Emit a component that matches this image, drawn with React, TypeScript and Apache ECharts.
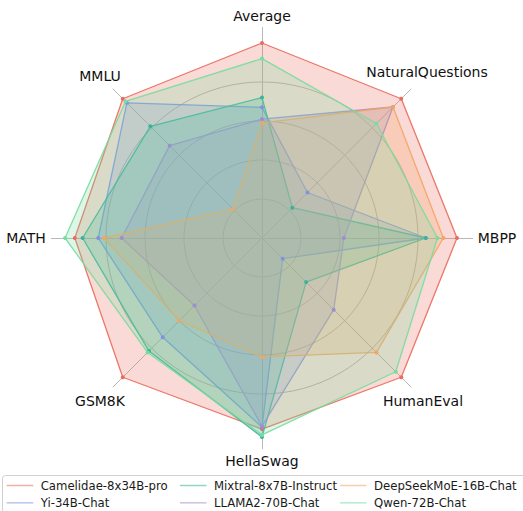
import React, { useEffect, useRef } from 'react';
import * as echarts from 'echarts';

// Indicators in ECharts order (counter-clockwise from the top)
const indicatorNames = ['Average', 'MMLU', 'MATH', 'GSM8K', 'HellaSwag', 'HumanEval', 'MBPP', 'NaturalQuestions'];
const seriesNames = [
  'Camelidae-8x34B-pro',
  'Yi-34B-Chat',
  'Mixtral-8x7B-Instruct',
  'LLAMA2-70B-Chat',
  'DeepSeekMoE-16B-Chat',
  'Qwen-72B-Chat',
];
// normalized scores, same order as indicatorNames
const camelidae = [1.0, 1.01, 0.96, 1.01, 0.98, 1.01, 1.0, 1.01];
const yi = [0.67, 0.98, 0.84, 0.72, 0.97, 0.15, 0.84, 0.33];
const mixtral = [0.72, 0.81, 0.92, 0.82, 1.02, 0.32, 0.84, 0.22];
const llama2 = [0.61, 0.67, 0.72, 0.49, 0.965, 0.52, 0.42, 0.95];
const deepseek = [0.59, 0.21, 0.81, 0.6, 0.61, 0.83, 0.93, 0.95];
const qwen = [0.92, 0.99, 1.01, 0.83, 1.01, 0.97, 0.9, 0.83];
const seriesValues = [camelidae, yi, mixtral, llama2, deepseek, qwen];
const colors = ['#ea6c5c', '#7e92e4', '#39b39a', '#9c8fd0', '#f4a563', '#78dd9e'];

const axisMax = 1.08;
const gridMax = 0.8;

// label layout (centre of each text)
const labelPos: Record<string, [number, number]> = {
  Average: [262, 16],
  NaturalQuestions: [427, 72],
  MBPP: [497, 238],
  HumanEval: [423, 401],
  HellaSwag: [262, 461],
  GSM8K: [100, 401],
  MATH: [26, 238],
  MMLU: [100, 76],
};

export default function App() {
  const ref = useRef<HTMLDivElement>(null);
  useEffect(() => {
    if (!ref.current) return;
    const chart = echarts.init(ref.current, undefined, { renderer: 'svg' });
    const cx = 262;
    const cy = 238;
    const unit = 195;
    const legendCols = [6.7, 180, 340];
    const option: any = {
      animation: false,
      backgroundColor: '#ffffff',
      radar: [
        {
          center: [cx, cy],
          radius: unit * gridMax,
          shape: 'circle',
          splitNumber: 4,
          indicator: indicatorNames.map((n) => ({ name: n, min: 0, max: gridMax })),
          axisName: { show: false },
          axisLine: { show: false },
          axisTick: { show: false },
          axisLabel: { show: false },
          splitArea: { show: false },
          splitLine: { show: true, lineStyle: { color: '#b8b8b8', width: 1 } },
        },
        {
          center: [cx, cy],
          radius: unit * axisMax,
          shape: 'circle',
          splitNumber: 4,
          indicator: indicatorNames.map((n) => ({ name: n, min: 0, max: axisMax })),
          axisName: { show: false },
          axisLine: { show: true, lineStyle: { color: '#b8b8b8', width: 1 } },
          axisTick: { show: false },
          axisLabel: { show: false },
          splitArea: { show: false },
          splitLine: { show: false },
        },
      ],
      legend: legendCols.map((left, c) => ({
        data: seriesNames.slice(c * 2, c * 2 + 2),
        orient: 'vertical',
        left,
        top: 478.5,
        padding: 0,
        itemWidth: 26.5,
        itemHeight: 1.5,
        itemGap: 3.3,
        icon: 'rect',
        selectedMode: false,
        itemStyle: { opacity: 0.55 },
        textStyle: {
          fontFamily: 'DejaVu Sans',
          fontSize: 11.7,
          color: '#1a1a1a',
          lineHeight: 14,
          padding: [0, 0, 0, 2.5],
        },
        z: 10,
      })),
      graphic: [
        {
          type: 'rect',
          z: 1,
          shape: { x: 2.5, y: 475.5, width: 540, height: 45, r: 3 },
          style: { fill: 'rgba(255,255,255,0.8)', stroke: '#d0d0d0', lineWidth: 1 },
        },
        ...indicatorNames.map((n) => ({
          type: 'text',
          z: 5,
          x: labelPos[n][0],
          y: labelPos[n][1],
          style: {
            text: n,
            fill: '#111',
            font: '14px "DejaVu Sans"',
            textAlign: 'center',
            textVerticalAlign: 'middle',
          },
        })),
      ],
      series: seriesNames.map((name, i) => ({
        type: 'radar',
        name,
        radarIndex: 1,
        symbol: 'circle',
        symbolSize: 4,
        lineStyle: { color: colors[i], width: 1.3, opacity: 0.9 },
        itemStyle: { color: colors[i] },
        areaStyle: { color: colors[i], opacity: 0.25 },
        data: [{ name, value: seriesValues[i] }],
      })),
    };
    chart.setOption(option);
    return () => chart.dispose();
  }, []);
  return <div ref={ref} style={{ position: 'fixed', left: 0, top: 0, width: 523, height: 511 }} />;
}
